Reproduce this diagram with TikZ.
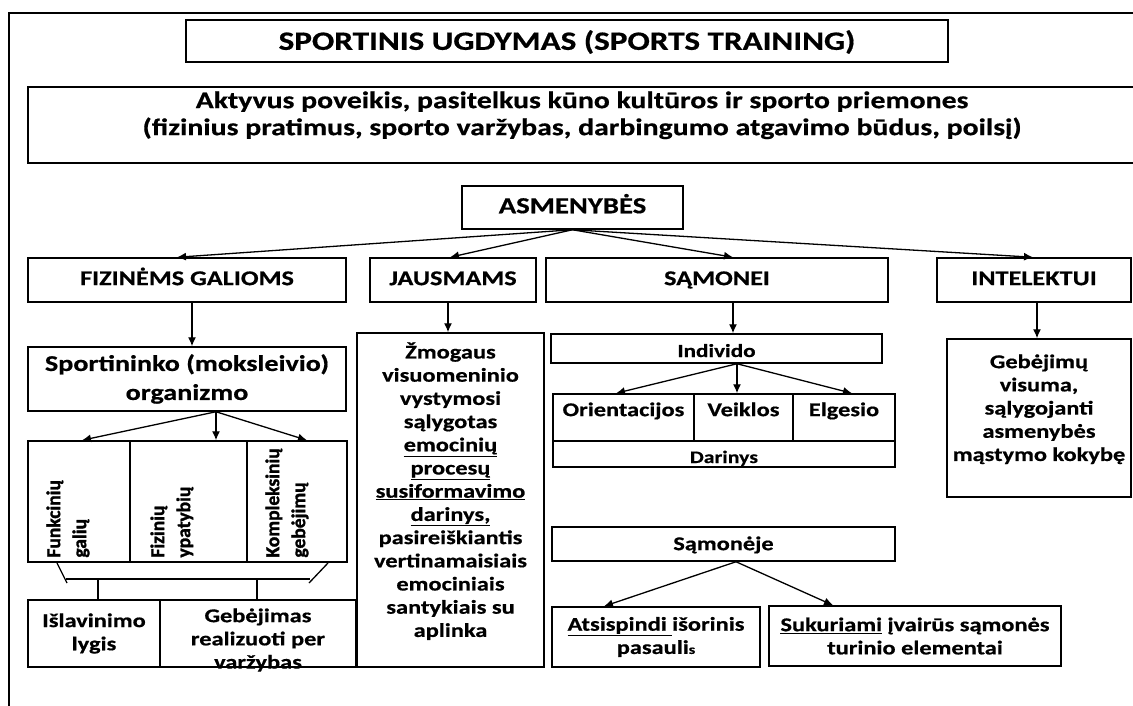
\documentclass[tikz,border=0pt]{standalone}
\usepackage{fontspec}
\setmainfont{Carlito}[FakeStretch=1.25, FakeBold=0.6]
\newfontfamily\vfont{Carlito}[FakeBold=1.5]
\usetikzlibrary{shapes,arrows,arrows.meta,positioning,calc}

\newcommand{\fsz}[2]{\fontsize{#1}{#2}\selectfont\bfseries}

\begin{document}
\begin{tikzpicture}[x=1pt, y=-1pt,
    box/.style={draw, rectangle, line width=1.5pt, inner sep=2pt, align=center},
    sz/.style 2 args={minimum width=#1, minimum height=#2},
    mid/.style 2 args={text height=#1, text depth=#2},
    ttl/.style={font=\fsz{26.5}{30}, mid={20pt}{2.3pt}},
    lead/.style={font=\fsz{23.8}{27}, align=center, inner sep=0pt},
    head/.style={font=\fsz{21}{24}, mid={14pt}{3.7pt}},
    txt/.style={font=\fsz{19.5}{23.2}, align=center},
    sml/.style={font=\fsz{17.5}{21}},
    vtxt/.style={font=\vfont\fsz{19.5}{26}, rotate=90, align=left, anchor=north west, inner sep=0pt},
    link/.style={-{Latex[length=9pt,width=8pt]}, line width=1.3pt},
    bar/.style={line width=1.3pt}]

\useasboundingbox (0,0) rectangle (1133,706);
\clip (0,0) rectangle (1133,706);

% outer frame
\draw[line width=2pt] (9,712) -- (9,13) -- (1140,13);

\node[box, ttl, sz={762}{42}] (title) at (567,41) {SPORTINIS UGDYMAS (SPORTS TRAINING)};
\node[box, sz={1108}{76}] (means) at (582,125) {};
\node[lead, below=5pt of means.north] (meanstxt) {Aktyvus poveikis, pasitelkus kūno kultūros ir sporto priemones\\(fizinius pratimus, sporto varžybas, darbingumo atgavimo būdus, poilsį)};

\node[box, head, font=\fsz{23}{26}, mid={15pt}{3.5pt}, sz={221}{43}] (asm) at (572.5,207.5) {ASMENYBĖS};

% second level
\node[box, head, sz={318}{44}] (fiz) at (187,280) {FIZINĖMS GALIOMS};
\node[box, head, sz={166}{44}] (jaus) at (453,280) {JAUSMAMS};
\node[box, head, sz={342}{44}] (samon) at (717,280) {SĄMONEI};
\node[box, head, sz={194}{44}] (intel) at (1034,280) {INTELEKTUI};

\draw[link] (asm.south) -- ([xshift=-10pt]fiz.north);
\draw[link] (asm.south) -- ([xshift=-3pt]jaus.north);
\draw[link] (asm.south) -- ([xshift=16pt]samon.north);
\draw[link] (asm.south) -- ([xshift=-1pt]intel.north);

% fizinems galioms
\node[box, txt, font=\fsz{22.5}{29}, sz={318}{64}] (sport) at (187,379) {Sportininko (moksleivio)\\organizmo};
\node[box, sz={102}{121}] (funk) at (79,501.5) {};
\node[box, sz={117}{121}] (fizy) at (188.5,501.5) {};
\node[box, sz={100}{121}] (komp) at (297,501.5) {};
\node[vtxt] (funktxt) at ([xshift=19pt,yshift=5pt]funk.south west) {Funkcinių\\galių};
\node[vtxt] (fizytxt) at ([xshift=21pt,yshift=5pt]fizy.south west) {Fizinių\\ypatybių};
\node[vtxt] (komptxt) at ([xshift=19pt,yshift=5pt]komp.south west) {Kompleksinių\\gebėjimų};

\draw[link] ([xshift=5pt]fiz.south) -- ([xshift=5pt]sport.north);
\draw[link] ([xshift=29pt]sport.south) -- ([xshift=3pt]funk.north);
\draw[link] ([xshift=29pt]sport.south) -- ([xshift=27.5pt]fizy.north);
\draw[link] ([xshift=29pt]sport.south) -- ([xshift=10pt]komp.north);

\node[box, txt, sz={132}{67}] (islav) at (94,633.5) {Išlavinimo\\lygis};
\node[box, sz={196}{67}] (gebej) at (258,633.5) {};
\node[txt, inner sep=0pt, below=9pt of gebej.north] (gebejtxt) {Gebėjimas\\realizuoti per\\varžybas};

% bracket under the three boxes
\coordinate (brla) at (57,563);
\coordinate (brlb) at (67,583);
\coordinate (brra) at (328,563);
\coordinate (brrb) at (309,583);
\coordinate (brl) at (66,579);
\coordinate (brr) at (310,579);
\coordinate (dr1) at (98,579);
\coordinate (dr2) at (257,579);
\draw[bar] (brla) -- (brlb);
\draw[bar] (brra) -- (brrb);
\draw[bar] (brl) -- (brr);
\draw[bar] (dr1) -- (dr1 |- islav.north);
\draw[bar] (dr2) -- (dr2 |- gebej.north);

% jausmams
\node[box, sz={187}{334}] (zmog) at (450.5,500) {};
\node[txt, inner sep=0pt, below=10pt of zmog.north] (zmogtxt) {Žmogaus\\visuomeninio\\vystymosi\\sąlygotas\\\underline{emocinių}\\\underline{procesų}\\\underline{susiformavimo}\\\underline{darinys,}\\pasireiškiantis\\vertinamaisiais\\emociniais\\santykiais su\\aplinka};
\draw[link] ([xshift=-5pt]jaus.south) -- ([xshift=-2.5pt]zmog.north);

% samonei
\node[box, sml, font=\fsz{18.5}{21}, mid={17pt}{0pt}, sz={331}{29}] (indiv) at (716.5,348.5) {Individo};
\node[box, txt, mid={12pt}{14.7pt}, sz={141}{47}] (orient) at (623.5,417.5) {Orientacijos};
\node[box, txt, mid={12pt}{14.7pt}, sz={99}{47}] (veik) at (743.5,417.5) {Veiklos};
\node[box, txt, mid={12pt}{14.7pt}, sz={102}{47}] (elg) at (844,417.5) {Elgesio};
\node[box, sml, mid={18pt}{0pt}, sz={342}{26}] (darin) at (724,454) {Darinys};

\draw[link] ([xshift=16pt]samon.south) -- ([xshift=16.5pt]indiv.north);
\draw[link] ([xshift=20.5pt]indiv.south) -- ([xshift=-7.5pt]orient.north);
\draw[link] ([xshift=20.5pt]indiv.south) -- ([xshift=-6.5pt]veik.north);
\draw[link] ([xshift=20.5pt]indiv.south) -- ([xshift=8pt]elg.north);

\node[box, txt, mid={15pt}{2.7pt}, sz={343}{34}] (samj) at (723.5,544) {Sąmonėje};
\node[box, txt, sz={208}{60}] (atsp) at (656,637) {\underline{Atsispindi\ }išorinis\\pasauli{\fontsize{13}{13}\selectfont s}};
\node[box, txt, sz={292}{60}] (sukur) at (915,636) {\underline{Sukuriami} įvairūs sąmonės\\turinio elementai};

\draw[link] ([xshift=12.5pt]samj.south) -- ([xshift=-52pt]atsp.north);
\draw[link] ([xshift=12.5pt]samj.south) -- ([xshift=-82pt]sukur.north);

% intelektui
\node[box, sz={184}{158}] (gebv) at (1039,418) {};
\node[txt, inner sep=0pt, below=16pt of gebv.north] (gebvtxt) {Gebėjimų\\visuma,\\sąlygojanti\\asmenybės\\mąstymo kokybę};
\draw[link] ([xshift=3pt]intel.south) -- ([xshift=-2pt]gebv.north);

\end{tikzpicture}
\end{document}
